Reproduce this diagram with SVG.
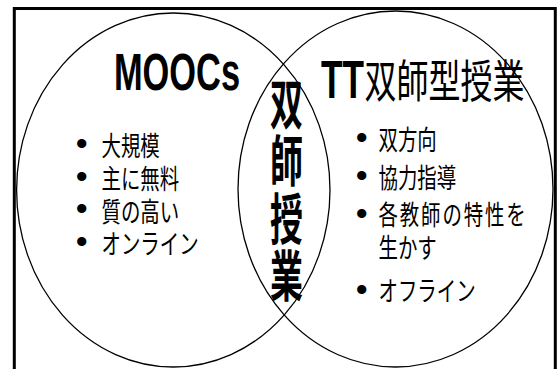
<svg xmlns="http://www.w3.org/2000/svg" width="557" height="369" viewBox="0 0 557 369">
<style>
.frame{fill:none;stroke:#000;stroke-width:3}
.circ{fill:none;stroke:#000;stroke-width:1.3}
.lat{font-family:"Liberation Sans",Arial,sans-serif;font-weight:bold;fill:#000}
.jp{font-family:"Noto Sans CJK JP","Noto Sans CJK SC",sans-serif;fill:#000}
.jpb{font-family:"Noto Sans CJK JP","Noto Sans CJK SC",sans-serif;font-weight:bold;fill:#000;font-size:55px}
.bul{font-family:"Liberation Sans",Arial,sans-serif;font-size:34px;fill:#000;text-anchor:middle}
.item{font-family:"Noto Sans CJK JP","Noto Sans CJK SC",sans-serif;font-size:27px;fill:#000}
</style>
<rect width="557" height="369" fill="#fff"/>
<rect class="frame" x="14.3" y="8.5" width="541" height="420"/>
<g id="connectors"></g>
<g id="moocs">
<ellipse class="circ" cx="173.3" cy="190" rx="156.7" ry="177"/>
<text class="lat" font-size="52" transform="translate(114 90) scale(0.661 1)">MOOCs</text>
<text class="bul"><tspan x="81.7" y="155">•</tspan><tspan x="81.7" y="187.7">•</tspan><tspan x="81.7" y="220.3">•</tspan><tspan x="81.7" y="253">•</tspan></text>
<text class="item" transform="translate(101.5 0) scale(0.72 1)"><tspan x="0" y="156.5">大規模</tspan><tspan x="0" y="189.2">主に無料</tspan><tspan x="0" y="221.8">質の高い</tspan><tspan x="0" y="254.5">オンライン</tspan></text>
</g>
<g id="tt">
<ellipse class="circ" cx="395.5" cy="189" rx="157.5" ry="178"/>
<text class="lat" font-size="53" transform="translate(321 98.3) scale(0.664 1)">TT</text>
<text class="jp" font-size="45.5" transform="translate(364.5 98.3) scale(0.703 1)">双師型授業</text>
<text class="bul"><tspan x="361.7" y="149">•</tspan><tspan x="361.7" y="186.5">•</tspan><tspan x="361.7" y="225">•</tspan><tspan x="361.7" y="300.5">•</tspan></text>
<text class="item" transform="translate(378.5 0) scale(0.72 1)"><tspan x="0" y="150.5">双方向</tspan><tspan x="0" y="188.5">協力指導</tspan><tspan x="0" y="225.5" letter-spacing="2.6">各教師の特性を</tspan><tspan x="0" y="258.5">生かす</tspan><tspan x="0" y="301.5">オフライン</tspan></text>
</g>
<g id="overlap">
<text class="jpb" transform="translate(270 0) scale(0.6 1)"><tspan x="0" y="124">双</tspan><tspan x="0" y="181.5">師</tspan><tspan x="0" y="239">授</tspan><tspan x="0" y="296.5">業</tspan></text>
</g>
</svg>
